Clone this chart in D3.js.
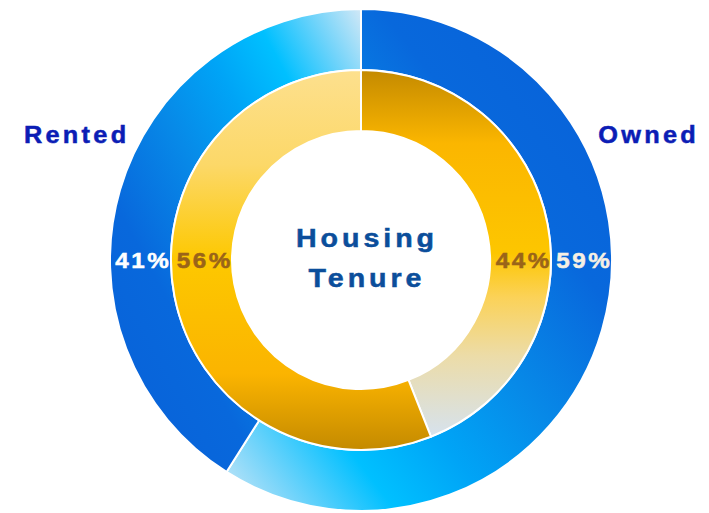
<!DOCTYPE html>
<html>
<head>
<meta charset="utf-8">
<script src="https://cdn.jsdelivr.net/npm/d3@7"></script>
<style>
	html, body { margin: 0; padding: 0; background: #fff; }
	svg { display: block; font-family: "Liberation Sans", Arial, sans-serif; }
</style>
</head>
<body>
<div id="chart"></div>
<script>
/* jshint esversion: 6 */

///////////////////////////////////////////////////////////////////////////////
//// Data /////////////////////////////////////////////////////////////////////
///////////////////////////////////////////////////////////////////////////////
const categories = ["Owned", "Rented"];
const outerValues = [59, 41];   // outer ring
const innerValues = [44, 56];   // inner ring
const title = ["Housing", "Tenure"];

///////////////////////////////////////////////////////////////////////////////
//// Set Up ///////////////////////////////////////////////////////////////////
///////////////////////////////////////////////////////////////////////////////
const width = 709,
			height = 513;

const cx = 361,
			cy = 260;

const holeRadius = 129,
			midRadius = 190,
			outerRadius = 251;

// text is drawn a bit wider than the font
const stretch = 1.1;

// gradient stops per ring / slice
const outerStops = [
	[0, "#0860d8"], [0.3, "#0868dc"], [0.5, "#078ae8"], [0.65, "#00a4f6"],
	[0.78, "#00c0ff"], [0.9, "#74d4fa"], [1, "#d2e8f6"]
];
const innerStops = {
	Owned: [[0, "#c48a00"], [0.2, "#fbb600"], [0.5, "#fdc600"], [0.62, "#fbd258"],
					[0.78, "#ecdca8"], [1, "#d6e2ee"]],
	Rented: [[0, "#c48a00"], [0.2, "#fbb400"], [0.5, "#fdc800"], [0.75, "#fcd868"],
					 [1, "#fde08e"]]
};
// gradient direction in bounding box units
const outerDir = {
	Owned: { x1: 1, y1: 0, x2: 0, y2: 1 },
	Rented: { x1: 0, y1: 1, x2: 1, y2: 0 }
};
const innerDir = {
	Owned: { x1: 0, y1: 0, x2: 0, y2: 1 },
	Rented: { x1: 0, y1: 1, x2: 0, y2: 0 }
};

const pie = d3.pie()
		.sort(null)
		.value(d => d.value);

const outerArc = d3.arc()
		.innerRadius(midRadius)
		.outerRadius(outerRadius);

const innerArc = d3.arc()
		.innerRadius(holeRadius)
		.outerRadius(midRadius);

const svg = d3.select("#chart")
	.append("svg")
		.attr("width", width)
		.attr("height", height);

const defs = svg.append("defs");

function addGradient(id, dir, stops) {
	const g = defs.append("linearGradient")
			.attr("id", id)
			.attr("x1", dir.x1).attr("y1", dir.y1)
			.attr("x2", dir.x2).attr("y2", dir.y2);
	g.selectAll("stop")
		.data(stops)
		.enter()
		.append("stop")
			.attr("offset", d => d[0])
			.attr("stop-color", d => d[1]);
}

categories.forEach(c => {
	addGradient("outer-" + c, outerDir[c], outerStops);
	addGradient("inner-" + c, innerDir[c], innerStops[c]);
});

const g = svg.append("g")
		.attr("transform", `translate(${cx}, ${cy})`);

///////////////////////////////////////////////////////////////////////////////
//// Rings ////////////////////////////////////////////////////////////////////
///////////////////////////////////////////////////////////////////////////////
const outerData = pie(categories.map((c, i) => ({ name: c, value: outerValues[i] })));
const innerData = pie(categories.map((c, i) => ({ name: c, value: innerValues[i] })));

g.append("g")
	.selectAll("path")
	.data(outerData)
	.enter()
	.append("path")
		.attr("d", outerArc)
		.attr("fill", d => `url(#outer-${d.data.name})`)
		.attr("stroke", "#fff")
		.attr("stroke-width", 2);

g.append("g")
	.selectAll("path")
	.data(innerData)
	.enter()
	.append("path")
		.attr("d", innerArc)
		.attr("fill", d => `url(#inner-${d.data.name})`)
		.attr("stroke", "#fff")
		.attr("stroke-width", 2);

///////////////////////////////////////////////////////////////////////////////
//// Labels ///////////////////////////////////////////////////////////////////
///////////////////////////////////////////////////////////////////////////////
// Stretched, letter-spaced, slightly heavier label; centred on (x, y)
function label(sel, x, y, size, spacing, color) {
	sel.attr("transform", (d, i) => `translate(${x(d, i)}, ${y(d, i)}) scale(${stretch}, 1)`)
		.attr("dx", spacing / 2)
		.attr("text-anchor", "middle")
		.attr("font-size", size)
		.attr("font-weight", "bold")
		.attr("letter-spacing", spacing)
		.attr("fill", color)
		.attr("stroke", color)
		.attr("stroke-width", 0.5);
}

// Owned on the right, Rented on the left, labels on the horizontal axis
const side = d => d.data.name === "Owned" ? 1 : -1;

g.append("g")
	.selectAll("text")
	.data(outerData)
	.enter()
	.append("text")
		.call(label, d => side(d) * (midRadius + outerRadius) / 2 + 1.5, () => 8, 22, 2.3,
					d => d.data.name === "Owned" ? "#f6f0e4" : "#fff")
		.text(d => d.data.value + "%");

g.append("g")
	.selectAll("text")
	.data(innerData)
	.enter()
	.append("text")
		.call(label, d => side(d) * (holeRadius + midRadius) / 2 + 2, () => 8, 22, 2.3, "#9a6419")
		.text(d => d.data.value + "%");

// series names
g.append("g")
	.selectAll("text")
	.data(outerData)
	.enter()
	.append("text")
		.call(label, d => side(d) * 286, () => -117, 23, 3, "#0b1db5")
		.text(d => d.data.name);

// central title
g.append("g")
	.selectAll("text")
	.data(title)
	.enter()
	.append("text")
		.call(label, () => 4, (d, i) => -13 + i * 40, 26, 3.6, "#0b4e9b")
		.text(d => d);
</script>
</body>
</html>
